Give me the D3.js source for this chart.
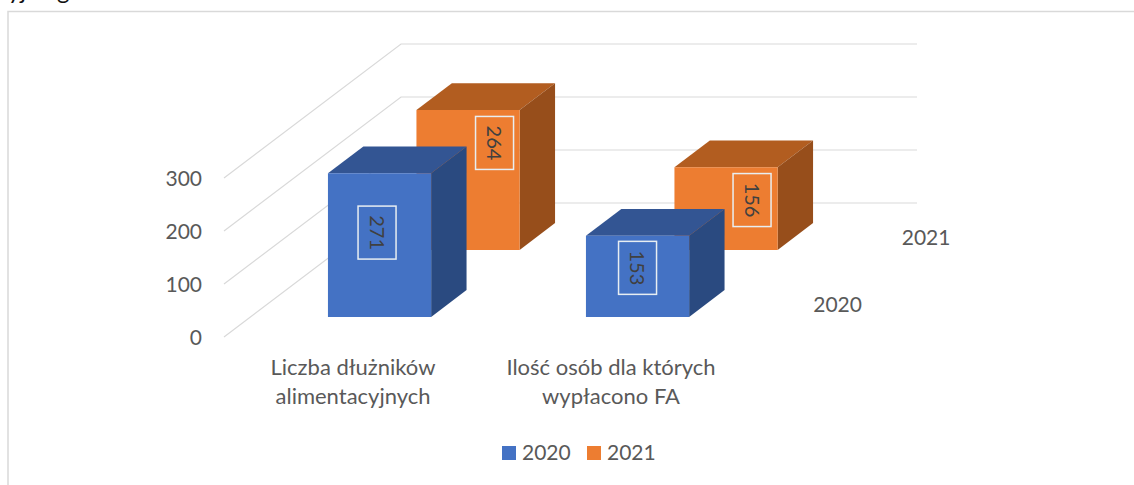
<!DOCTYPE html>
<html>
<head>
<meta charset="utf-8">
<script src="https://cdn.jsdelivr.net/npm/d3@7"></script>
<style>
  html, body { margin: 0; padding: 0; background: #fff; overflow: hidden; }
  text { font-family: Lato, "Open Sans", sans-serif; }
</style>
</head>
<body>
<script>
const categories = ["Liczba dłużników alimentacyjnych", "Ilość osób dla których wypłacono FA"];
const categoryLines = [["Liczba dłużników", "alimentacyjnych"], ["Ilość osób dla których", "wypłacono FA"]];
const seriesNames = ["2020", "2021"];
const values2020 = [271, 153];
const values2021 = [264, 156];
const yTicks = [0, 100, 200, 300];

const colors = {
  "2020": { front: "#4472c4", top: "#335593", side: "#2a4a80" },
  "2021": { front: "#ed7d31", top: "#b25d20", side: "#974e1b" }
};

const width = 1134;
const height = 485;

let svg = d3.select("body").append("svg")
  .attr("width", width)
  .attr("height", height);

// descenders of the page text above the chart, only these show in the picture
[["yj", 8], ["g", 57]].forEach(([s, px]) => {
  svg.append("text")
    .attr("x", px)
    .attr("y", -1)
    .attr("font-size", 24)
    .attr("fill", "#111")
    .text(s);
});

// chart frame, runs off the page on the right and at the bottom
svg.append("rect")
  .attr("x", 8)
  .attr("y", 11.5)
  .attr("width", 1160)
  .attr("height", 520)
  .attr("fill", "#fff")
  .attr("stroke", "#d9d9d9")
  .attr("stroke-width", 1.5);

// scales: x along the front edge, z into the page (0..1), y up
let x = d3.scaleBand().domain(categories).range([224, 740]).paddingInner(0.6).paddingOuter(0.3);
let z = d3.scaleBand().domain(seriesNames).range([0, 1]).paddingInner(0.6).paddingOuter(0.3);
let y = d3.scaleLinear().domain([0, 300]).range([0, 159]);

// oblique projection of (x, value, depth) on the page
let depthX = 177;
let depthY = 134;
let floorY = 337;
let project = (px, v, t) => [px + t * depthX, floorY - y(v) - t * depthY];

// walls
let grid = svg.append("g");
yTicks.forEach((t) => {
  let a = project(x.range()[0], t, 0);
  let b = project(x.range()[0], t, 1);
  let c = project(x.range()[1], t, 1);
  grid.append("polyline")
    .attr("points", [a, b, c].join(" "))
    .attr("fill", "none")
    .attr("stroke", "#d9d9d9")
    .attr("stroke-width", 1.2);
});

// y axis labels
svg.selectAll("text.y-label")
  .data(yTicks)
  .enter()
  .append("text")
  .classed("y-label", true)
  .attr("x", 202)
  .attr("y", (d) => project(0, d, 0)[1])
  .attr("dy", "0.36em")
  .attr("text-anchor", "end")
  .attr("font-size", 21)
  .attr("fill", "#595959")
  .text((d) => d);

// boxes, back series first so the front series covers it
let bars = [];
[[values2021, "2021"], [values2020, "2020"]].forEach(([values, name]) => {
  values.forEach((v, i) => bars.push({ series: name, category: categories[i], value: v, i: i }));
});

let poly = (pts) => pts.join(" ");
let box = svg.selectAll("g.box")
  .data(bars)
  .enter()
  .append("g")
  .classed("box", true);

box.append("polygon")
  .attr("fill", (d) => colors[d.series].top)
  .attr("points", (d) => {
    let x0 = x(d.category), x1 = x0 + x.bandwidth();
    let t0 = z(d.series), t1 = t0 + z.bandwidth();
    return poly([project(x0, d.value, t0), project(x1, d.value, t0), project(x1, d.value, t1), project(x0, d.value, t1)]);
  });
box.append("polygon")
  .attr("fill", (d) => colors[d.series].side)
  .attr("points", (d) => {
    let x1 = x(d.category) + x.bandwidth();
    let t0 = z(d.series), t1 = t0 + z.bandwidth();
    return poly([project(x1, 0, t0), project(x1, d.value, t0), project(x1, d.value, t1), project(x1, 0, t1)]);
  });
box.append("polygon")
  .attr("fill", (d) => colors[d.series].front)
  .attr("points", (d) => {
    let x0 = x(d.category), x1 = x0 + x.bandwidth();
    let t0 = z(d.series);
    return poly([project(x0, 0, t0), project(x1, 0, t0), project(x1, d.value, t0), project(x0, d.value, t0)]);
  });

// data labels sit off-centre on the front face, these are the shifts from its middle
let labelShift = {
  "2020": [[-2.5, -12.5], [0, -8.5]],
  "2021": [[26.5, -37], [26, -8.5]]
};
let label = box.append("g")
  .attr("transform", (d) => {
    let t0 = z(d.series);
    let mid = project(x(d.category) + x.bandwidth() / 2, d.value / 2, t0);
    let s = labelShift[d.series][d.i];
    return `translate(${mid[0] + s[0]},${mid[1] + s[1]})`;
  });
label.append("rect")
  .attr("x", -19)
  .attr("y", -26.5)
  .attr("width", 38)
  .attr("height", 53)
  .attr("fill", "none")
  .attr("stroke", "#e8eef2")
  .attr("stroke-width", 1.5);
label.append("text")
  .attr("transform", "rotate(90)")
  .attr("text-anchor", "middle")
  .attr("dy", "0.36em")
  .attr("font-size", 20)
  .attr("fill", "#404040")
  .text((d) => d.value);

// category labels
let catLabel = svg.selectAll("text.cat-label")
  .data(categories)
  .enter()
  .append("text")
  .classed("cat-label", true)
  .attr("text-anchor", "middle")
  .attr("font-size", 22)
  .attr("fill", "#595959");
catLabel.selectAll("tspan")
  .data((d, i) => categoryLines[i].map((s) => ({ s: s, c: d })))
  .enter()
  .append("tspan")
  .attr("x", (d) => x(d.c) + x.bandwidth() / 2)
  .attr("y", (d, i) => 375 + i * 29)
  .text((d) => d.s);

// depth axis labels
svg.selectAll("text.depth-label")
  .data(seriesNames)
  .enter()
  .append("text")
  .classed("depth-label", true)
  .attr("x", (d) => project(x.range()[1], 0, z(d) + z.bandwidth() / 2)[0] + 29)
  .attr("y", (d) => project(x.range()[1], 0, z(d) + z.bandwidth() / 2)[1] + 8)
  .attr("font-size", 21)
  .attr("fill", "#595959")
  .text((d) => d);

// legend
let legendX = d3.scalePoint().domain(seriesNames).range([502, 587]);
let legend = svg.selectAll("g.legend")
  .data(seriesNames)
  .enter()
  .append("g")
  .classed("legend", true)
  .attr("transform", (d) => `translate(${legendX(d)},446)`);
legend.append("rect")
  .attr("width", 14)
  .attr("height", 14)
  .attr("fill", (d) => colors[d].front);
legend.append("text")
  .attr("x", 20)
  .attr("y", 14)
  .attr("font-size", 21)
  .attr("fill", "#595959")
  .text((d) => d);
</script>
</body>
</html>
